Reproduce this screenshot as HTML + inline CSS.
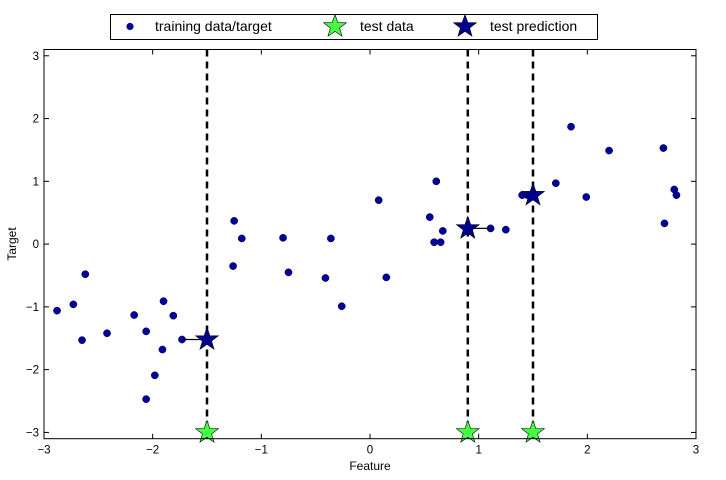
<!DOCTYPE html>
<html><head><meta charset="utf-8"><style>
body{margin:0;background:#fff;}
svg{display:block;font-family:"Liberation Sans",sans-serif;}
</style></head><body>
<svg id="chart" width="726" height="480" viewBox="0 0 726 480">
<rect x="0" y="0" width="726" height="480" fill="#fff"/>
<g id="plot"></g>
</svg>
<script>
const trainX = [-2.88,-2.73,-2.65,-2.62,-2.42,-2.17,-2.06,-2.06,-1.98,-1.91,-1.90,-1.81,-1.73,-1.25,-1.26,-1.18,-0.80,-0.75,-0.41,-0.36,-0.26,0.08,0.15,0.55,0.59,0.61,0.65,0.67,1.11,1.25,1.40,1.45,1.71,1.85,1.99,2.20,2.70,2.71,2.80,2.82];
const trainY = [-1.06,-0.96,-1.53,-0.48,-1.42,-1.13,-1.39,-2.47,-2.09,-1.68,-0.91,-1.14,-1.52,0.37,-0.35,0.09,0.10,-0.45,-0.54,0.09,-0.99,0.70,-0.53,0.43,0.03,1.00,0.03,0.21,0.25,0.23,0.78,0.78,0.97,1.87,0.75,1.49,1.53,0.33,0.87,0.78];
const testX = [-1.5,0.9,1.5];
const testPred = [-1.52,0.25,0.78];
const neighborX = [-1.73,1.11,1.45];
const xTicks = [-3,-2,-1,0,1,2,3];
const yTicks = [-3,-2,-1,0,1,2,3];
const xTickLabels = ["\u22123","\u22122","\u22121","0","1","2","3"];
const yTickLabels = ["\u22123","\u22122","\u22121","0","1","2","3"];

const L=44,R=696,T=49.5,B=438.7;
const xMin=-3,xMax=3,yMin=-3.1,yMax=3.1;
const sx=v=>L+(v-xMin)/(xMax-xMin)*(R-L);
const sy=v=>B-(v-yMin)/(yMax-yMin)*(B-T);
const NS="http://www.w3.org/2000/svg";
const g=document.getElementById('plot');
function mk(tag,attrs,parent){const e=document.createElementNS(NS,tag);for(const k in attrs)e.setAttribute(k,attrs[k]);(parent||g).appendChild(e);return e;}
function starPts(cx,cy,r){let p=[];for(let i=0;i<10;i++){const a=-Math.PI/2+i*Math.PI/5;const rr=i%2?r*0.4:r;p.push((cx+rr*Math.cos(a)).toFixed(2)+","+(cy+rr*Math.sin(a)).toFixed(2));}return p.join(" ");}

// dashed lines
testX.forEach((x,i)=>{
  const l=mk('line',{x1:sx(x),x2:sx(x),y1:T,y2:B,stroke:'#000','stroke-width':2.5,'stroke-dasharray':'7,5'});
  
  
});
// training points
trainX.forEach((x,i)=>{
  const c=mk('circle',{cx:sx(x),cy:sy(trainY[i]),r:3.6,fill:'#00009c',stroke:'#000033','stroke-width':0.5});
  
  
});
// neighbor lines
testX.forEach((x,i)=>{
  const l=mk('line',{x1:sx(neighborX[i]),x2:sx(x),y1:sy(testPred[i]),y2:sy(testPred[i]),stroke:'#000','stroke-width':1.2});
  
  
});
// test data stars
testX.forEach((x,i)=>{
  const s=mk('polygon',{points:starPts(sx(x),sy(-3),12),fill:'#44ff44',stroke:'#000','stroke-width':0.6});
  
  
});
// prediction stars
testX.forEach((x,i)=>{
  const s=mk('polygon',{points:starPts(sx(x),sy(testPred[i]),12),fill:'#000090',stroke:'#000','stroke-width':0.6});
  
  
});
// frame
const fr=mk('rect',{x:L,y:T,width:R-L,height:B-T,fill:'none',stroke:'#000','stroke-width':1});


// ticks
xTicks.forEach((v,i)=>{
  const x=sx(v);
  mk('line',{x1:x,x2:x,y1:B,y2:B-5,stroke:'#000','stroke-width':1});
  mk('line',{x1:x,x2:x,y1:T,y2:T+5,stroke:'#000','stroke-width':1});
  const t=mk('text',{x:x,y:B+15,'font-size':11.5,'text-anchor':'middle'});
  t.textContent=xTickLabels[i];
  
  
});
yTicks.forEach((v,i)=>{
  const y=sy(v);
  mk('line',{x1:L,x2:L+5,y1:y,y2:y,stroke:'#000','stroke-width':1});
  mk('line',{x1:R,x2:R-5,y1:y,y2:y,stroke:'#000','stroke-width':1});
  const t=mk('text',{x:L-5,y:y+4,'font-size':11.5,'text-anchor':'end'});
  t.textContent=yTickLabels[i];
  
  
});
</script>
<svg style="position:absolute;left:0;top:0" width="726" height="480">
<text x="370" y="470" font-size="12" text-anchor="middle" font-family="Liberation Sans,sans-serif">Feature</text>
<text x="16" y="244" font-size="12" text-anchor="middle" font-family="Liberation Sans,sans-serif" transform="rotate(-90 16 244)">Target</text>
<g>
<rect x="110.5" y="14.5" width="487" height="25" fill="#fff" stroke="#000" stroke-width="1"/>
<circle cx="130" cy="26.5" r="3.6" fill="#00009c"/>
<text x="155" y="31" font-size="14" font-family="Liberation Sans,sans-serif">training data/target</text>
<polygon points="335,14.5 337.8,22.6 346.4,22.8 339.6,28 342,36.2 335,31.4 328,36.2 330.4,28 323.6,22.8 332.2,22.6" fill="#44ff44" stroke="#000" stroke-width="0.6"/>
<text x="360" y="31" font-size="14" font-family="Liberation Sans,sans-serif">test data</text>
<polygon points="465,14.5 467.8,22.6 476.4,22.8 469.6,28 472,36.2 465,31.4 458,36.2 460.4,28 453.6,22.8 462.2,22.6" fill="#000090" stroke="#000" stroke-width="0.6"/>
<text x="490" y="31" font-size="14" font-family="Liberation Sans,sans-serif">test prediction</text>
</g>
</svg>
</body></html>
